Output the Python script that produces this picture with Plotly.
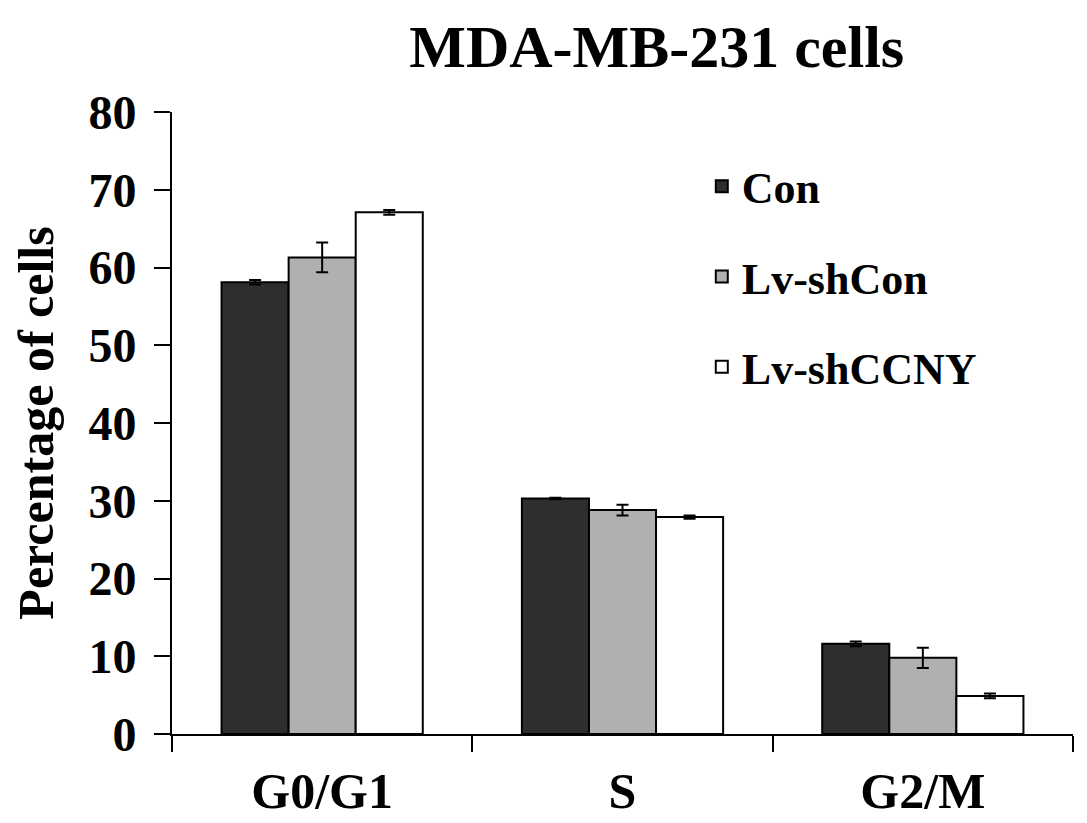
import plotly.graph_objects as go

# Cell-cycle phases on the x axis
phases = ["G0/G1", "S", "G2/M"]

# Mean percentage of cells per group
con = [58.1, 30.3, 11.6]
lv_shcon = [61.3, 28.8, 9.8]
lv_shccny = [67.1, 27.9, 4.9]

# Error bar half-lengths (SD)
con_err = [0.3, 0.1, 0.3]
lv_shcon_err = [1.9, 0.7, 1.3]
lv_shccny_err = [0.3, 0.2, 0.3]

group_names = ["Con", "Lv-shCon", "Lv-shCCNY"]
group_colors = ["#2e2e2e", "#b0b0b0", "#ffffff"]

FONT = "Liberation Serif, Times New Roman, serif"

fig = go.Figure()

for name, vals, errs, color in zip(group_names,
                                   [con, lv_shcon, lv_shccny],
                                   [con_err, lv_shcon_err, lv_shccny_err],
                                   group_colors):
    fig.add_trace(go.Bar(
        x=phases,
        y=vals,
        name=name,
        legendgroup=name,
        marker=dict(color=color, line=dict(color="black", width=2)),
        error_y=dict(type="data", array=errs, visible=True,
                     color="black", thickness=2, width=6),
    ))

# page body adds an 8px offset, margins compensate for it
fig.update_layout(
    width=1087,
    height=823,
    paper_bgcolor="white",
    plot_bgcolor="white",
    barmode="group",
    bargap=0.33,
    bargroupgap=0,
    margin=dict(l=164, r=22, t=104, b=97),
    font=dict(family=FONT, size=44, color="black", weight="bold"),
    title=dict(
        text="MDA-MB-231 cells",
        font=dict(family=FONT, size=60, color="black", weight="bold"),
        x=0.538, xref="paper", xanchor="center",
        y=1 - 38 / 823, yref="container", yanchor="middle",
    ),
    legend=dict(
        x=0.588, y=0.937, xanchor="left", yanchor="top",
        font=dict(family=FONT, size=44, color="black", weight="bold"),
        tracegroupgap=30,
        bgcolor="rgba(0,0,0,0)",
    ),
    showlegend=True,
)

fig.update_xaxes(
    showline=True, linecolor="black", linewidth=2,
    ticks="outside", ticklen=16, tickwidth=2, tickcolor="black",
    tickson="boundaries", ticklabelstandoff=12,
    showgrid=False, zeroline=False, automargin=False,
    tickfont=dict(family=FONT, size=50, color="black", weight="bold"),
)

fig.update_yaxes(
    range=[0, 80], dtick=10,
    showline=True, linecolor="black", linewidth=2,
    ticks="outside", ticklen=16, tickwidth=2, tickcolor="black",
    ticklabelstandoff=8,
    showgrid=False, zeroline=False, automargin=False,
    tickfont=dict(family=FONT, size=48, color="black", weight="bold"),
    title=dict(text="Percentage of cells",
               font=dict(family=FONT, size=50, color="black", weight="bold"),
               standoff=24),
)

fig.write_html("out.html")
